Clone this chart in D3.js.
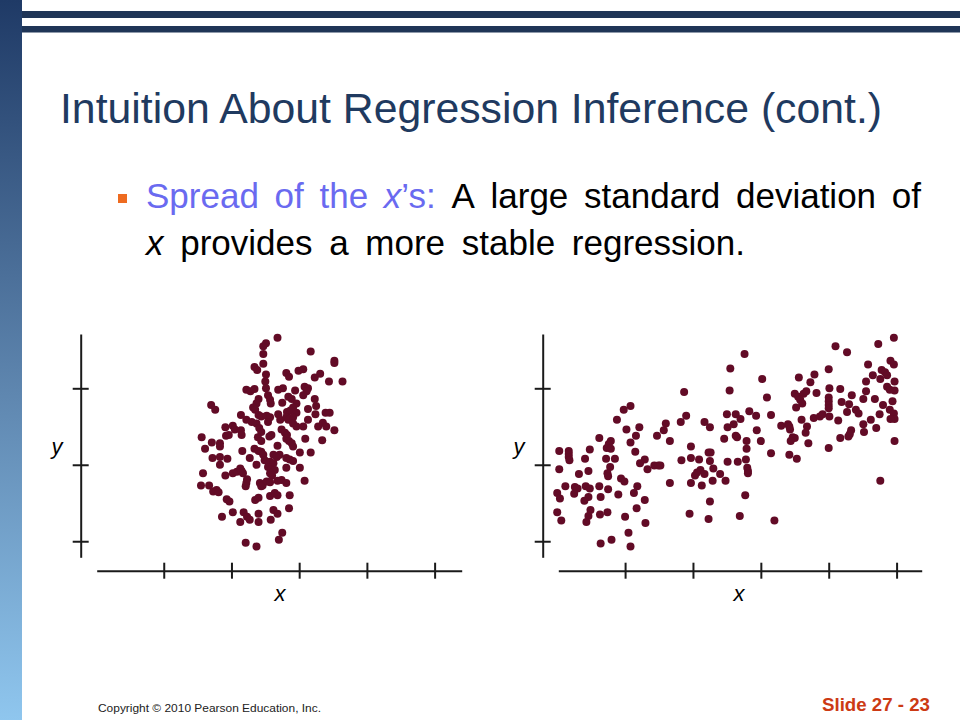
<!DOCTYPE html>
<html lang="en">
<head>
<meta charset="utf-8">
<title>Intuition About Regression Inference (cont.)</title>
<script src="https://cdnjs.cloudflare.com/ajax/libs/d3/7.8.5/d3.min.js"></script>
<style>
  html, body { margin: 0; padding: 0; background: #fff; }
  svg { display: block; font-family: "Liberation Sans", Arial, sans-serif; }
</style>
</head>
<body>
<svg id="slide" width="960" height="720"></svg>
<script>
// ---- data (axis units: x ticks 1..5, y ticks 1..3) ----
var xTickValues = [1, 2, 3, 4, 5];
var yTickValues = [1, 2, 3];

// small spread of x
var leftPoints = [
  [2.68,3.66],[2.51,3.59],[2.47,3.55],[2.47,3.45],[3.17,3.48],[3.52,3.36],[3.52,3.33],[2.47,3.32],
  [2.34,3.28],[2.38,3.24],[2.51,3.18],[2.81,3.20],[2.85,3.15],[2.99,3.23],[3.06,3.25],[3.23,3.14],
  [3.31,3.19],[3.44,3.09],[3.64,3.09],[2.50,3.09],[2.51,3.00],[2.22,2.98],[2.28,2.96],[2.34,2.99],
  [2.69,2.98],[2.76,3.00],[2.94,2.97],[3.08,3.02],[3.13,3.00],[3.11,2.96],[3.06,2.91],[2.54,2.91],
  [2.57,2.85],[2.58,2.80],[2.40,2.86],[2.37,2.80],[2.84,2.89],[2.89,2.86],[2.75,2.81],[3.23,2.86],
  [2.96,2.80],[2.91,2.75],[1.70,2.78],[1.76,2.72],[2.32,2.75],[2.35,2.72],[3.13,2.73],[3.25,2.77],
  [2.82,2.69],[2.87,2.71],[2.96,2.68],[2.14,2.65],[2.40,2.65],[2.44,2.63],[2.52,2.64],[2.57,2.62],
  [2.69,2.66],[2.72,2.59],[2.81,2.62],[2.84,2.59],[2.91,2.62],[3.24,2.66],[3.39,2.68],[3.45,2.68],
  [3.13,2.59],[2.22,2.59],[2.30,2.56],[2.37,2.54],[2.54,2.56],[2.91,2.54],[2.96,2.50],[3.06,2.50],
  [3.28,2.50],[3.35,2.55],[3.40,2.50],[3.52,2.45],[1.91,2.49],[2.02,2.51],[2.05,2.46],[2.14,2.45],
  [2.15,2.39],[2.41,2.48],[2.44,2.43],[2.74,2.46],[2.79,2.42],[2.82,2.39],[1.92,2.38],[1.96,2.39],
  [1.56,2.36],[1.71,2.29],[1.83,2.28],[1.83,2.24],[1.61,2.21],[2.39,2.36],[2.44,2.31],[2.56,2.37],
  [2.59,2.39],[2.81,2.34],[2.85,2.31],[2.89,2.28],[3.09,2.34],[3.34,2.32],[2.68,2.25],[2.91,2.24],
  [2.16,2.18],[2.34,2.21],[2.40,2.18],[2.44,2.17],[2.47,2.13],[3.01,2.16],[3.17,2.16],[2.62,2.13],
  [2.67,2.10],[2.71,2.13],[1.72,2.09],[1.83,2.10],[1.94,2.08],[2.27,2.09],[2.49,2.06],[2.57,2.04],
  [2.62,2.02],[2.81,2.09],[2.86,2.07],[2.91,2.05],[1.83,2.00],[2.37,2.00],[2.54,1.97],[2.59,1.94],
  [2.64,1.93],[2.81,1.96],[3.01,1.96],[1.58,1.89],[1.91,1.86],[2.02,1.89],[2.08,1.91],[2.13,1.95],
  [2.15,1.92],[2.17,1.89],[2.57,1.89],[2.60,1.86],[2.23,1.81],[1.55,1.73],[1.67,1.73],[1.73,1.65],
  [1.78,1.67],[1.81,1.64],[2.22,1.76],[2.21,1.72],[2.42,1.76],[2.46,1.73],[2.52,1.78],[2.57,1.77],
  [2.44,1.72],[2.68,1.79],[2.74,1.80],[2.81,1.76],[3.08,1.79],[1.93,1.55],[1.97,1.52],[2.35,1.54],
  [2.40,1.57],[2.57,1.59],[2.64,1.63],[2.68,1.60],[2.86,1.60],[2.02,1.38],[1.86,1.32],[2.18,1.38],
  [2.23,1.32],[2.27,1.28],[2.13,1.25],[2.40,1.36],[2.40,1.25],[2.62,1.41],[2.68,1.36],[2.58,1.28],
  [2.85,1.43],[2.75,1.11],[2.70,1.02],[2.21,0.98],[2.37,0.93]
];

// large spread of x
var rightPoints = [
  [4.96,3.66],[4.10,3.55],[4.27,3.47],[4.73,3.58],[2.76,3.45],[2.55,3.26],[4.58,3.31],[4.91,3.36],
  [4.96,3.31],[4.00,3.25],[3.79,3.18],[3.56,3.14],[4.65,3.17],[4.78,3.24],[4.83,3.21],[4.86,3.17],
  [4.76,3.12],[3.02,3.12],[3.73,3.08],[4.55,3.09],[4.97,3.09],[2.54,2.97],[1.87,2.95],[4.01,3.00],
  [4.17,2.99],[4.86,3.02],[4.90,2.98],[4.97,2.97],[4.55,2.96],[3.50,2.93],[3.55,2.89],[3.63,2.93],
  [3.67,2.96],[3.58,2.85],[3.61,2.80],[3.52,2.75],[3.82,2.94],[3.09,2.88],[4.00,2.88],[4.00,2.83],
  [4.00,2.78],[4.00,2.74],[4.34,2.91],[4.51,2.86],[4.68,2.86],[4.19,2.82],[4.30,2.79],[4.80,2.78],
  [4.94,2.83],[1.08,2.77],[0.98,2.72],[2.83,2.70],[4.27,2.69],[4.40,2.72],[4.44,2.67],[4.75,2.66],
  [4.90,2.72],[4.96,2.67],[4.97,2.60],[4.91,2.60],[1.90,2.64],[2.50,2.66],[2.63,2.66],[2.70,2.60],
  [2.93,2.64],[3.15,2.65],[0.88,2.59],[2.17,2.56],[1.60,2.54],[1.82,2.56],[3.60,2.59],[3.78,2.61],
  [3.87,2.63],[3.91,2.66],[4.01,2.63],[4.14,2.58],[4.51,2.53],[4.62,2.59],[3.30,2.51],[3.40,2.53],
  [3.42,2.50],[3.43,2.46],[2.51,2.49],[2.60,2.53],[2.25,2.49],[1.21,2.49],[1.02,2.46],[1.57,2.45],
  [1.47,2.38],[1.16,2.38],[2.94,2.45],[3.68,2.50],[3.66,2.42],[4.33,2.45],[4.70,2.48],[4.52,2.43],
  [0.62,2.35],[2.63,2.38],[2.65,2.36],[2.46,2.34],[3.47,2.36],[3.50,2.35],[3.44,2.31],[4.17,2.35],
  [4.29,2.37],[4.31,2.40],[0.79,2.31],[0.76,2.27],[1.08,2.29],[1.66,2.31],[2.79,2.31],[3.00,2.31],
  [3.70,2.28],[4.97,2.31],[0.03,2.18],[0.17,2.18],[0.17,2.14],[0.17,2.10],[0.18,2.06],[0.48,2.20],
  [0.73,2.22],[0.79,2.21],[1.15,2.17],[1.97,2.24],[2.79,2.21],[4.00,2.22],[3.15,2.15],[3.42,2.13],
  [3.53,2.08],[0.41,2.08],[0.72,2.08],[0.85,2.08],[1.29,2.07],[1.22,2.02],[1.83,2.06],[1.97,2.09],
  [2.09,2.07],[2.23,2.16],[2.26,2.16],[2.25,2.05],[2.51,2.04],[2.66,2.04],[2.78,2.07],[1.43,1.99],
  [1.49,1.99],[1.52,1.99],[1.33,1.94],[0.03,1.94],[0.78,1.97],[2.30,1.95],[2.80,1.96],[2.81,1.92],
  [2.81,1.89],[2.11,1.93],[2.06,1.90],[2.03,1.86],[2.17,1.88],[2.40,1.88],[0.32,1.88],[0.46,1.92],
  [0.74,1.89],[0.75,1.85],[0.94,1.82],[0.99,1.78],[0.12,1.72],[0.26,1.71],[0.30,1.69],[0.25,1.62],
  [0.42,1.72],[0.48,1.69],[0.46,1.58],[0.62,1.72],[0.64,1.58],[0.75,1.68],[0.90,1.61],[1.13,1.63],
  [1.18,1.72],[1.66,1.76],[1.97,1.76],[2.13,1.73],[2.29,1.79],[2.48,1.79],[4.76,1.79],[0.00,1.63],
  [0.04,1.56],[0.40,1.53],[1.29,1.54],[1.17,1.43],[2.25,1.52],[2.77,1.60],[0.00,1.38],[0.49,1.41],
  [0.46,1.33],[0.43,1.25],[0.63,1.35],[0.74,1.38],[0.06,1.27],[1.00,1.32],[1.30,1.24],[1.95,1.36],
  [2.23,1.29],[2.69,1.33],[3.20,1.27],[1.05,1.11],[0.64,0.97],[0.80,1.02],[1.08,0.93]
];

var titleText = "Intuition About Regression Inference (cont.)";
var bulletLead = ["Spread", "of", "the"];
var bulletRest = ["A", "large", "standard", "deviation", "of"];
var secondLine = "provides a more stable regression.";
var copyrightText = "Copyright \u00a9 2010 Pearson Education, Inc.";
var slideNumber = "Slide 27 - 23";

// ---- slide frame ----
var svg = d3.select("#slide");
var defs = svg.append("defs");
var grad = defs.append("linearGradient").attr("id", "sidebar")
  .attr("x1", 0).attr("y1", 0).attr("x2", 0).attr("y2", 1);
grad.append("stop").attr("offset", "0%").attr("stop-color", "#1f3a66");
grad.append("stop").attr("offset", "55%").attr("stop-color", "#5f87b0");
grad.append("stop").attr("offset", "100%").attr("stop-color", "#8fc6ee");

svg.append("rect").attr("x", 0).attr("y", 0).attr("width", 22).attr("height", 720)
  .attr("fill", "url(#sidebar)");
svg.append("rect").attr("x", 22).attr("y", 11).attr("width", 938).attr("height", 7).attr("fill", "#1f3557");
svg.append("rect").attr("x", 22).attr("y", 26).attr("width", 938).attr("height", 6.5).attr("fill", "#1f3557");

svg.append("text").attr("x", 60).attr("y", 123)
  .attr("font-size", 42.5).attr("fill", "#1f3a60")
  .attr("textLength", 822).attr("lengthAdjust", "spacingAndGlyphs")
  .text(titleText);

// bullet
svg.append("rect").attr("x", 118).attr("y", 194).attr("width", 9).attr("height", 9).attr("fill", "#ee6b20");

var bulletSize = 35;
var line1Left = 146, line1Right = 921, line1Y = 208;
var line2Right = 745;
var blue = "#6a6af0";

// build words of line 1, then justify them
var words = [];
bulletLead.forEach(function(w) {
  var t = svg.append("text").attr("y", line1Y).attr("font-size", bulletSize).attr("fill", blue).text(w);
  words.push(t);
});
var xs = svg.append("text").attr("y", line1Y).attr("font-size", bulletSize).attr("fill", blue);
xs.append("tspan").attr("font-style", "italic").text("x");
xs.append("tspan").text("\u2019s:");
words.push(xs);
bulletRest.forEach(function(w) {
  var t = svg.append("text").attr("y", line1Y).attr("font-size", bulletSize).attr("fill", "#000").text(w);
  words.push(t);
});
var widths = words.map(function(t) { return t.node().getComputedTextLength(); });
var gap = (line1Right - line1Left - d3.sum(widths)) / (words.length - 1);
var cx = line1Left;
words.forEach(function(t, i) {
  t.attr("x", cx);
  cx += widths[i] + gap;
});

var line2 = svg.append("text").attr("x", line1Left).attr("y", 255)
  .attr("font-size", bulletSize).attr("fill", "#000");
line2.append("tspan").attr("font-style", "italic").text("x");
line2.append("tspan").text(" " + secondLine);
// the original spaces words a bit wider than the font does
var len2 = line2.node().getComputedTextLength();
var nSpaces = secondLine.split(" ").length;
line2.attr("word-spacing", Math.max(0, (line2Right - line1Left - len2) / nSpaces));

// ---- scatter plots ----
function drawPlot(points, xRange, xDomain, axisX, yLabelX, xLabelX) {
  var x = d3.scaleLinear().domain(xDomain).range(xRange);
  var y = d3.scaleLinear().domain([0.79, 3.71]).range([557.3, 334]);
  var g = svg.append("g");

  var xAxis = g.append("g").attr("transform", "translate(0,570.7)")
    .call(d3.axisBottom(x).tickValues(xTickValues).tickSizeOuter(0).tickSizeInner(8).tickFormat(""));
  xAxis.selectAll(".tick line").attr("y1", -8);

  var yAxis = g.append("g").attr("transform", "translate(" + axisX + ",0)")
    .call(d3.axisLeft(y).tickValues(yTickValues).tickSizeOuter(0).tickSizeInner(8).tickFormat(""));
  yAxis.selectAll(".tick line").attr("x1", 8);

  g.selectAll(".domain, .tick line").attr("stroke", "#1a1a1a").attr("stroke-width", 2);

  g.selectAll("circle").data(points).enter().append("circle")
    .attr("cx", function(d) { return x(d[0]); })
    .attr("cy", function(d) { return y(d[1]); })
    .attr("r", 4)
    .attr("fill", "#620b26");

  g.append("text").attr("x", yLabelX).attr("y", 454).attr("font-size", 22)
    .attr("font-style", "italic").attr("text-anchor", "middle").text("y");
  g.append("text").attr("x", xLabelX).attr("y", 601).attr("font-size", 22)
    .attr("font-style", "italic").attr("text-anchor", "middle").text("x");
}

drawPlot(leftPoints, [96.7, 461.7], [0.01, 5.40], 80.7, 57, 280);
drawPlot(rightPoints, [558.3, 921.7], [0.016, 5.37], 542.7, 519, 739);

// ---- footer ----
svg.append("text").attr("x", 98).attr("y", 712).attr("font-size", 11.5)
  .attr("font-family", "'Liberation Sans Narrow', 'Liberation Sans', Arial, sans-serif")
  .attr("textLength", 223).attr("lengthAdjust", "spacingAndGlyphs")
  .attr("fill", "#222").text(copyrightText);
svg.append("text").attr("x", 822).attr("y", 711).attr("font-size", 18).attr("font-weight", "bold")
  .attr("textLength", 108).attr("lengthAdjust", "spacingAndGlyphs")
  .attr("fill", "#cc3a14").text(slideNumber);
</script>
</body>
</html>
